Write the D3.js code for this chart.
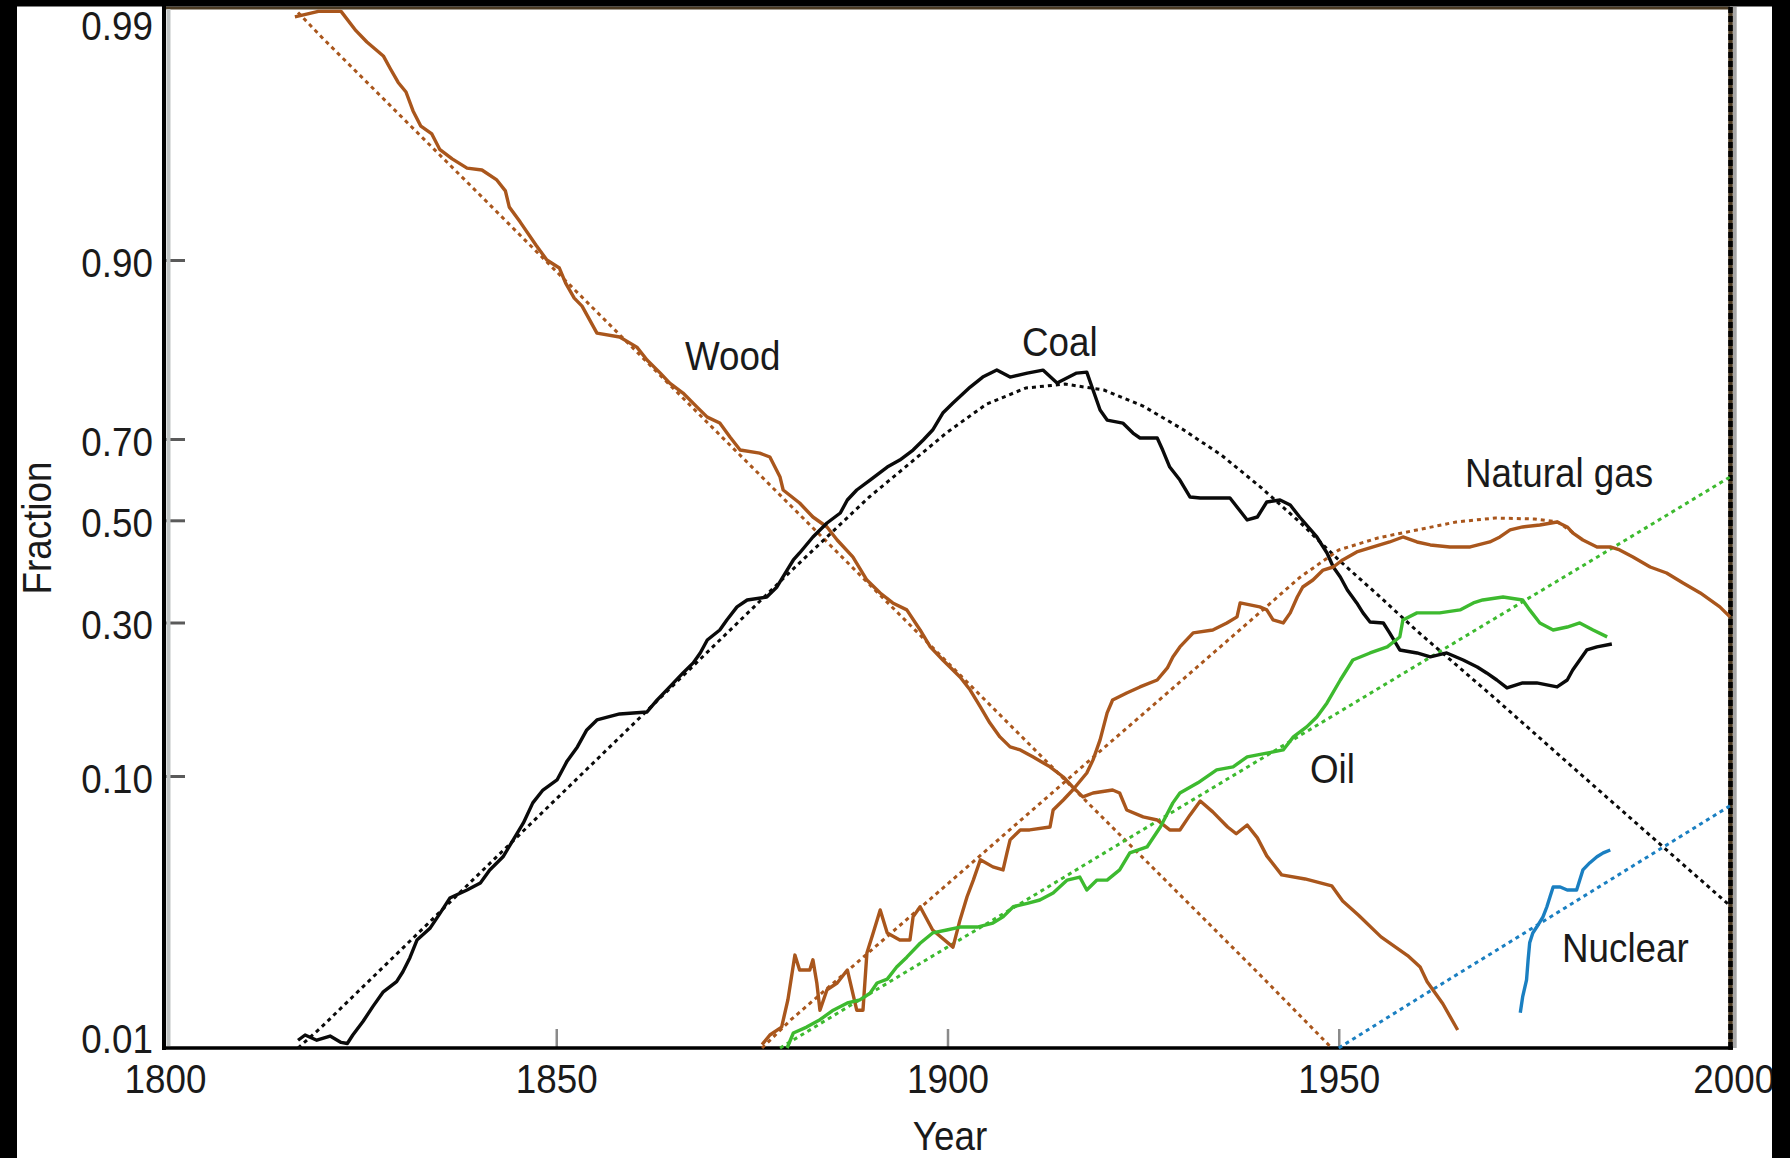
<!DOCTYPE html>
<html lang="en">
<head>
<meta charset="UTF-8">
<title>Energy substitution</title>
<script src="https://d3js.org/d3.v7.min.js"></script>
<style>
  body { margin: 0; background: #fff; }
  text { font-family: "Liberation Sans", Arial, sans-serif; fill: #1a1a1a; }
</style>
</head>
<body>
<svg id="chart"></svg>
<script>
// fraction ticks on the logit axis
const fracTicks = [0.01, 0.10, 0.30, 0.50, 0.70, 0.90, 0.99]
const yearTicks = [1800, 1850, 1900, 1950, 2000]

// [year, fraction]
const woodActual = [[1816.6,0.9906],[1819.6,0.9911],[1822.5,0.9911],[1824.4,0.9892],[1825.8,0.9879],[1827.9,0.9861],[1828.8,0.9842],[1829.8,0.9819],[1830.8,0.9801],[1831.7,0.9760],[1832.7,0.9721],[1834.1,0.9699],[1835.1,0.9650],[1836.7,0.9616],[1838.6,0.9580],[1840.5,0.9572],[1842.4,0.9529],[1843.5,0.9477],[1844.0,0.9389],[1845.4,0.9296],[1847.4,0.9128],[1848.8,0.900],[1850.4,0.8944],[1851.2,0.8832],[1852.3,0.8710],[1853.3,0.8641],[1855.2,0.8383],[1858.1,0.8343],[1860.3,0.8235],[1861.6,0.8089],[1863.3,0.7932],[1864.5,0.7806],[1866.2,0.7674],[1868.0,0.7480],[1869.3,0.7335],[1870.9,0.7246],[1872.2,0.7031],[1873.5,0.6753],[1876.0,0.6683],[1877.3,0.6591],[1878.6,0.6108],[1879.0,0.5783],[1881.1,0.5449],[1882.8,0.5086],[1884.6,0.4861],[1885.9,0.4593],[1887.9,0.4246],[1889.7,0.3787],[1891.4,0.3538],[1893.0,0.3351],[1894.8,0.3224],[1896.5,0.2864],[1897.8,0.2569],[1899.4,0.2356],[1901.6,0.2098],[1902.9,0.1914],[1904.2,0.1694],[1905.4,0.1506],[1906.7,0.1355],[1908.0,0.1255],[1909.3,0.1226],[1910.9,0.1162],[1913.1,0.1075],[1914.8,0.0992],[1916.0,0.0916],[1917.3,0.0846],[1918.6,0.0873],[1921.1,0.0894],[1922.0,0.0873],[1922.9,0.0761],[1925.0,0.0719],[1926.8,0.0701],[1928.4,0.0646],[1929.7,0.0646],[1931.0,0.0731],[1932.3,0.0818],[1933.9,0.0749],[1935.8,0.0662],[1936.9,0.0626],[1938.3,0.0673],[1939.6,0.0605],[1940.8,0.0521],[1942.7,0.0444],[1945.7,0.0429],[1949.1,0.0405],[1950.5,0.0356],[1952.5,0.0316],[1955.4,0.0262],[1958.8,0.0223],[1960.4,0.0202],[1961.3,0.0178],[1963.3,0.0147],[1965.2,0.0117]]
const woodFit = [[1817,0.9910],[1820,0.9885],[1830,0.9750],[1840,0.9466],[1850,0.8920],[1860,0.8208],[1870,0.7173],[1880,0.5372],[1890,0.3704],[1900,0.2317],[1910,0.1316],[1920,0.0707],[1930,0.0368],[1940,0.0188],[1949.1,0.0100]]

const coalActual = [[1817.0,0.0107],[1817.9,0.0112],[1819.4,0.0107],[1821.1,0.0111],[1822.5,0.0105],[1823.3,0.0104],[1824.0,0.0112],[1825.3,0.0126],[1826.6,0.0144],[1827.9,0.0163],[1829.6,0.0178],[1830.4,0.0194],[1831.3,0.0219],[1832.2,0.0255],[1833.9,0.0283],[1835.1,0.0319],[1836.4,0.0365],[1838.6,0.0391],[1840.3,0.0415],[1841.5,0.0463],[1843.2,0.0517],[1844.5,0.0595],[1845.8,0.0684],[1847.0,0.0806],[1848.3,0.0894],[1850.1,0.0969],[1851.4,0.1126],[1852.7,0.1255],[1853.9,0.1428],[1855.2,0.1539],[1858.1,0.1609],[1861.6,0.1633],[1862.9,0.1782],[1864.5,0.1956],[1866.2,0.2157],[1867.5,0.2310],[1868.4,0.2469],[1869.3,0.2687],[1870.9,0.2864],[1871.8,0.3045],[1873.1,0.3279],[1874.4,0.3406],[1876.9,0.3462],[1878.2,0.3652],[1879.5,0.3984],[1880.3,0.4185],[1881.1,0.4327],[1882.8,0.4655],[1884.6,0.4944],[1886.3,0.5190],[1887.2,0.5527],[1888.4,0.5783],[1890.1,0.6034],[1892.3,0.6353],[1893.9,0.6521],[1895.6,0.6753],[1896.9,0.6978],[1898.1,0.7140],[1899.4,0.7394],[1900.7,0.7537],[1902.9,0.7754],[1904.5,0.7882],[1906.3,0.7969],[1908.0,0.7882],[1910.2,0.7932],[1912.2,0.7969],[1914.0,0.7806],[1916.5,0.7932],[1917.8,0.7944],[1918.6,0.7715],[1919.5,0.7438],[1920.4,0.7291],[1922.4,0.7246],[1923.7,0.7093],[1924.6,0.7016],[1926.8,0.7016],[1927.5,0.6753],[1928.4,0.6353],[1929.7,0.6034],[1931.0,0.5604],[1932.3,0.5578],[1936.1,0.5578],[1937.0,0.5345],[1938.3,0.5008],[1939.6,0.5086],[1940.8,0.5475],[1942.5,0.5527],[1943.8,0.5397],[1945.0,0.5086],[1947.2,0.4655],[1948.5,0.4327],[1949.3,0.4044],[1950.2,0.3846],[1951.1,0.3594],[1952.3,0.3351],[1953.1,0.3170],[1954.0,0.3009],[1955.7,0.2991],[1956.5,0.2811],[1957.8,0.2518],[1960.0,0.2469],[1961.7,0.2405],[1963.8,0.2469],[1965.9,0.2356],[1967.7,0.2247],[1968.9,0.2157],[1970.2,0.2054],[1971.5,0.1942],[1973.5,0.2012],[1975.3,0.2012],[1977.9,0.1956],[1979.2,0.2054],[1979.9,0.2201],[1980.8,0.2356],[1981.7,0.2518],[1983.0,0.2569],[1984.9,0.2619]]
const coalFit = [[1817,0.0100],[1820,0.0120],[1830,0.0232],[1840,0.0444],[1850,0.0832],[1860,0.1506],[1870,0.2569],[1880,0.3964],[1890,0.5604],[1900,0.7109],[1905,0.7523],[1910,0.7741],[1915,0.7793],[1920,0.7715],[1925,0.7494],[1930,0.7155],[1935,0.6637],[1940,0.5858],[1945,0.4965],[1950,0.4185],[1955,0.3500],[1960,0.2846],[1970,0.1800],[1980,0.1066],[1990,0.0610],[2000,0.0342]]

const gasActual = [[1876.3,0.0103],[1877.3,0.0112],[1878.8,0.0120],[1879.6,0.0152],[1880.5,0.0224],[1881.1,0.0197],[1882.4,0.0197],[1882.8,0.0215],[1883.3,0.0176],[1883.7,0.0139],[1884.6,0.0166],[1885.9,0.0176],[1887.2,0.0197],[1888.4,0.0139],[1889.2,0.0139],[1889.7,0.0228],[1890.5,0.0271],[1891.4,0.0330],[1892.3,0.0271],[1893.9,0.0255],[1895.2,0.0255],[1895.6,0.0311],[1896.5,0.0339],[1898.1,0.0278],[1900.7,0.0240],[1901.6,0.0303],[1902.5,0.0369],[1903.3,0.0425],[1904.2,0.0504],[1905.8,0.0475],[1907.1,0.0463],[1907.6,0.0534],[1908.0,0.0595],[1909.3,0.0646],[1910.5,0.0646],[1913.1,0.0662],[1913.5,0.0761],[1914.8,0.0825],[1916.0,0.0894],[1917.8,0.1024],[1918.6,0.1135],[1919.5,0.1324],[1920.4,0.1621],[1921.1,0.1782],[1922.9,0.1874],[1924.6,0.1956],[1926.8,0.2054],[1928.1,0.2232],[1928.8,0.2405],[1929.7,0.2569],[1931.4,0.2811],[1933.9,0.2864],[1935.7,0.2991],[1937.0,0.3099],[1937.4,0.3351],[1939.9,0.3279],[1940.8,0.3224],[1941.6,0.3045],[1942.9,0.2991],[1943.8,0.3170],[1944.7,0.3462],[1945.4,0.3652],[1946.7,0.3787],[1948.0,0.3984],[1949.3,0.4044],[1950.5,0.4185],[1952.3,0.4347],[1954.4,0.4450],[1956.5,0.4552],[1958.2,0.4655],[1960.0,0.4552],[1961.7,0.4491],[1964.2,0.4450],[1966.8,0.4450],[1969.3,0.4552],[1970.6,0.4655],[1971.9,0.4800],[1973.5,0.4862],[1975.7,0.4903],[1977.9,0.4965],[1979.2,0.4862],[1979.9,0.4738],[1981.2,0.4593],[1983.0,0.4450],[1984.7,0.4450],[1985.9,0.4388],[1987.6,0.4246],[1989.8,0.4044],[1991.9,0.3925],[1994.0,0.3729],[1996.2,0.3538],[1998.7,0.3279],[2000.0,0.3099]]
const gasFit = [[1876.3,0.0100],[1880,0.0128],[1890,0.0230],[1900,0.0411],[1910,0.0725],[1920,0.1246],[1930,0.2054],[1940,0.3188],[1945,0.3835],[1950,0.4388],[1955,0.4635],[1960,0.4800],[1965,0.4965],[1970,0.5060],[1975,0.5034],[1978,0.4965],[1980,0.4738]]

const oilActual = [[1879.5,0.0100],[1880.3,0.0114],[1882.0,0.0120],[1883.7,0.0128],[1885.4,0.0139],[1887.2,0.0148],[1888.8,0.0152],[1890.1,0.0161],[1891.0,0.0176],[1892.3,0.0182],[1893.5,0.0202],[1894.8,0.0220],[1896.5,0.0248],[1898.1,0.0271],[1899.9,0.0278],[1901.6,0.0285],[1903.8,0.0285],[1905.8,0.0295],[1907.1,0.0311],[1908.4,0.0339],[1910.2,0.0349],[1911.8,0.0359],[1913.5,0.0381],[1915.3,0.0425],[1916.9,0.0436],[1917.8,0.0391],[1919.1,0.0425],[1920.4,0.0425],[1922.0,0.0463],[1923.3,0.0534],[1925.5,0.0561],[1927.2,0.0662],[1928.8,0.0806],[1929.7,0.0873],[1932.0,0.0947],[1934.4,0.1049],[1936.5,0.1075],[1938.3,0.1162],[1940.8,0.1196],[1942.9,0.1226],[1944.2,0.1355],[1945.9,0.1461],[1947.2,0.1574],[1948.5,0.1744],[1950.2,0.2054],[1951.8,0.2356],[1954.0,0.2469],[1956.2,0.2569],[1957.8,0.2740],[1958.2,0.3045],[1960.0,0.3170],[1962.9,0.3170],[1965.5,0.3224],[1967.2,0.3351],[1968.4,0.3406],[1971.0,0.3462],[1973.5,0.3406],[1974.4,0.3224],[1975.7,0.2991],[1977.4,0.2864],[1979.2,0.2917],[1980.8,0.2991],[1982.5,0.2864],[1984.3,0.2741]]
const oilFit = [[1878.6,0.0100],[1890,0.0160],[1900,0.0240],[1910,0.0358],[1920,0.0533],[1930,0.0785],[1940,0.1141],[1950,0.1629],[1960,0.2274],[1970,0.3075],[1980,0.3958],[1990,0.4917],[2000,0.6109]]

const nuclearActual = [[1973.2,0.0136],[1973.5,0.0156],[1974.0,0.0181],[1974.2,0.0215],[1974.4,0.0249],[1974.8,0.0271],[1975.3,0.0285],[1976.1,0.0311],[1976.6,0.0339],[1977.0,0.0369],[1977.4,0.0401],[1978.3,0.0401],[1979.2,0.0391],[1980.4,0.0391],[1980.8,0.0425],[1981.2,0.0463],[1982.1,0.0492],[1983.0,0.0517],[1983.8,0.0534],[1984.7,0.0547]]
const nuclearFit = [[1950,0.0100],[1960,0.0153],[1970,0.0232],[1980,0.0351],[1990,0.0528],[2000,0.0787]]

const brown = "#a9561c", black = "#0a0a0a", green = "#3dba2f", blue = "#1a7fc1"

const series = [
  {data: woodFit, color: brown, dashed: true},
  {data: coalFit, color: black, dashed: true},
  {data: gasFit, color: brown, dashed: true},
  {data: oilFit, color: green, dashed: true},
  {data: nuclearFit, color: blue, dashed: true},
  {data: woodActual, color: brown},
  {data: coalActual, color: black},
  {data: gasActual, color: brown},
  {data: oilActual, color: green},
  {data: nuclearActual, color: blue}
]

const labels = [
  {text: "Wood", x: 685, y: 370},
  {text: "Coal", x: 1022, y: 356},
  {text: "Natural gas", x: 1465, y: 487},
  {text: "Oil", x: 1310, y: 783},
  {text: "Nuclear", x: 1562, y: 962}
]

let width = 1790
let height = 1158
let squeeze = 0.92   // lettering in the source is a slightly narrow face

let logit = p => Math.log(p / (1 - p))

let svg = d3.select("#chart").attr("width", width).attr("height", height)

let xScale = d3.scaleLinear().domain([1800, 2000]).range([165, 1730])
// the hand-lettered logit axis is unevenly spaced, so map it through each labelled tick
let yScale = d3.scaleLinear()
  .domain(fracTicks.map(logit))
  .range([1048, 776, 622.5, 520.3, 439, 260, 23])

let line = d3.line()
  .x(d => xScale(d[0]))
  .y(d => yScale(logit(d[1])))

// frame
svg.append("line").attr("x1", 166).attr("x2", 1730).attr("y1", 8).attr("y2", 8)
  .attr("stroke", "#4b3a22").attr("stroke-width", 3)
svg.append("line").attr("x1", 1734.7).attr("x2", 1734.7).attr("y1", 7).attr("y2", 1048)
  .attr("stroke", "#a8a8a8").attr("stroke-width", 4)
svg.append("line").attr("x1", 1730.5).attr("x2", 1730.5).attr("y1", 7).attr("y2", 1050)
  .attr("stroke", "#4b3a22").attr("stroke-width", 4.5)
svg.append("line").attr("x1", 1730.5).attr("x2", 1730.5).attr("y1", 7).attr("y2", 1050)
  .attr("stroke", "#000").attr("stroke-width", 4.5).attr("stroke-dasharray", "6 3")

// axes
let yAxis = d3.axisLeft(yScale)
  .tickValues(fracTicks.map(logit))
  .tickFormat(d => d3.format(".2f")(1 / (1 + Math.exp(-d))))
  .tickSizeInner(-21)
  .tickSizeOuter(0)
  .tickPadding(12)

let gy = svg.append("g").attr("transform", "translate(164,0)").call(yAxis)
gy.select(".domain").remove()
gy.attr("font-family", null).attr("font-size", null)
gy.selectAll(".tick line").attr("stroke", "#5a5a5a").attr("stroke-width", 3)
gy.selectAll(".tick").filter((d, i) => i == 0 || i == fracTicks.length - 1).select("line").remove()
gy.selectAll(".tick text")
  .attr("font-size", 40)
  .attr("fill", "#1a1a1a")
  .attr("transform", `scale(${squeeze},1)`)
  .attr("dy", (d, i) => i == 0 ? "0.12em" : "0.4em")

let xAxis = d3.axisBottom(xScale)
  .tickValues(yearTicks)
  .tickFormat(d3.format("d"))
  .tickSizeInner(-19)
  .tickSizeOuter(0)
  .tickPadding(16.6)

let gx = svg.append("g").attr("transform", "translate(0,1048)").call(xAxis)
gx.select(".domain").remove()
gx.attr("font-family", null).attr("font-size", null)
gx.selectAll(".tick line").attr("stroke", "#8a8a8a").attr("stroke-width", 2.5)
gx.selectAll(".tick").filter((d, i) => i == 0 || i == yearTicks.length - 1).select("line").remove()
gx.selectAll(".tick text")
  .attr("font-size", 40)
  .attr("fill", "#1a1a1a")
  .attr("transform", `scale(${squeeze},1)`)
  .attr("dx", (d, i) => i == yearTicks.length - 1 ? 4 : 0)

// axis lines
svg.append("line").attr("x1", 168.5).attr("x2", 168.5).attr("y1", 9).attr("y2", 1046)
  .attr("stroke", "#bfc3c3").attr("stroke-width", 4)
svg.append("line").attr("x1", 164).attr("x2", 164).attr("y1", 5).attr("y2", 1050)
  .attr("stroke", "#000").attr("stroke-width", 4)
svg.append("line").attr("x1", 162).attr("x2", 1733).attr("y1", 1048).attr("y2", 1048)
  .attr("stroke", "#000").attr("stroke-width", 3.5)

// curves
svg.append("g").selectAll("path")
  .data(series)
  .enter()
  .append("path")
  .attr("d", d => line(d.data))
  .attr("fill", "none")
  .attr("stroke", d => d.color)
  .attr("stroke-width", d => d.dashed ? 3 : 3.4)
  .attr("stroke-dasharray", d => d.dashed ? "4 4" : null)
  .attr("stroke-linejoin", "round")

// series names
svg.append("g").selectAll("text")
  .data(labels)
  .enter()
  .append("text")
  .attr("transform", d => `translate(${d.x},${d.y}) scale(${squeeze},1)`)
  .attr("font-size", 40)
  .text(d => d.text)

svg.append("text")
  .attr("transform", `translate(950,1150) scale(${squeeze},1)`)
  .attr("text-anchor", "middle")
  .attr("font-size", 40)
  .text("Year")

svg.append("text")
  .attr("transform", `translate(51,528) rotate(-90) scale(${squeeze},1)`)
  .attr("text-anchor", "middle")
  .attr("font-size", 40)
  .text("Fraction")

// black bands round the scan
svg.append("rect").attr("x", 0).attr("y", 0).attr("width", 17).attr("height", height).attr("fill", "#000")
svg.append("rect").attr("x", 0).attr("y", 0).attr("width", width).attr("height", 6.5).attr("fill", "#000")
svg.append("rect").attr("x", 1772).attr("y", 0).attr("width", 18).attr("height", height).attr("fill", "#000")
</script>
</body>
</html>
